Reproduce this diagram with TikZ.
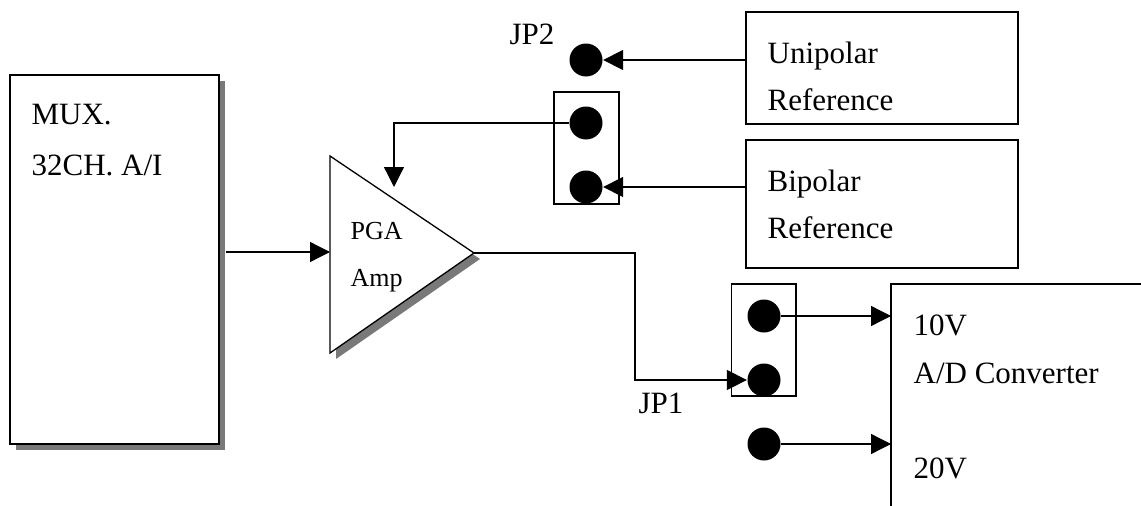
\documentclass[tikz,border=0pt]{standalone}
\usepackage{fontspec}
\setmainfont{Liberation Serif}
\usetikzlibrary{arrows.meta}
\begin{document}
\begin{tikzpicture}[x=1pt,y=-1pt,
  line width=1.3pt,
  arr/.style={-{Triangle[length=20pt,width=20pt]}},
  blk/.style={draw,line width=1.3pt,inner sep=0,fill=white},
  dot/.style={circle,fill=black,inner sep=0,minimum size=33pt},
  lbl/.style={anchor=base west,inner sep=0,font=\fontsize{31}{34}\selectfont},
  small/.style={font=\fontsize{26}{30}\selectfont},
  shadowc/.style={fill=gray!95!black}
]
\useasboundingbox (0,0) rectangle (1141,506);
% MUX box with shadow
\fill[shadowc] (16,81) rectangle (225,450);
\node[blk,minimum width=209pt,minimum height=369pt] (mux) at (114.5,259.5) {};
\node[lbl] (muxa) at (31,124) {MUX.};
\node[lbl] (muxb) at (31,175) {32CH. A/I};
% PGA triangle with shadow
\coordinate (ta) at (330,156);
\coordinate (tt) at (474,253);
\coordinate (tb) at (330,353);
\coordinate (tin) at (330,252);
\coordinate (fb) at (394,187);
\fill[shadowc] ([shift={(6,6)}]ta) -- ([shift={(6,6)}]tt) -- ([shift={(6,6)}]tb) -- cycle;
\draw[fill=white] (ta) -- (tt) -- (tb) -- cycle;
\node[lbl,small] (pga) at (350,239) {PGA};
\node[lbl,small] (amp) at (350,286) {Amp};
% reference boxes
\node[blk,minimum width=272pt,minimum height=112pt] (uni) at (882,68) {};
\node[lbl] (unia) at (767,63) {Unipolar};
\node[lbl] (unib) at (767,110) {Reference};
\node[blk,minimum width=272pt,minimum height=128pt] (bip) at (882,204) {};
\node[lbl] (bipa) at (767,191) {Bipolar};
\node[lbl] (bipb) at (767,238) {Reference};
% JP2
\node[lbl] (jp2) at (509,44) {JP2};
\node[draw,inner sep=0,minimum width=65pt,minimum height=112pt] (jp2box) at (586.5,148) {};
\node[dot] (d2a) at (586,60) {};
\node[dot] (d2b) at (586,123) {};
\node[dot] (d2c) at (586,187) {};
% JP1
\node[draw,inner sep=0,minimum width=64.5pt,minimum height=112pt] (jp1box) at (763.75,340) {};
\node[dot] (d1a) at (764,316) {};
\node[dot] (d1b) at (764,380) {};
\node[dot] (d1c) at (764,444) {};
\node[lbl] (jp1) at (638,413) {JP1};
% A/D converter
\coordinate (adb) at (891,506);
\coordinate (adc) at (891,284);
\coordinate (adr) at (1141,284);
\draw (adb) -- (adc) -- (adr);
\node[lbl] (v10) at (913,335) {10V};
\node[lbl] (adconv) at (913,383) {A/D Converter};
\node[lbl] (v20) at (913,478) {20V};
% connectors
\draw[arr] ([xshift=6pt]mux.east |- tin) -- (tin);
\draw[arr] (d2b.west) -| (fb);
\draw[arr] (uni.west |- d2a) -- (d2a.east);
\draw[arr] (bip.west |- d2c) -- (d2c.east);
\coordinate (ob) at (635,253);
\draw[arr] (tt) -- (ob) |- (d1b.west);
\draw[arr] (d1a.east) -- (adc |- d1a);
\draw[arr] (d1c.east) -- (adc |- d1c);
\end{tikzpicture}
\end{document}
